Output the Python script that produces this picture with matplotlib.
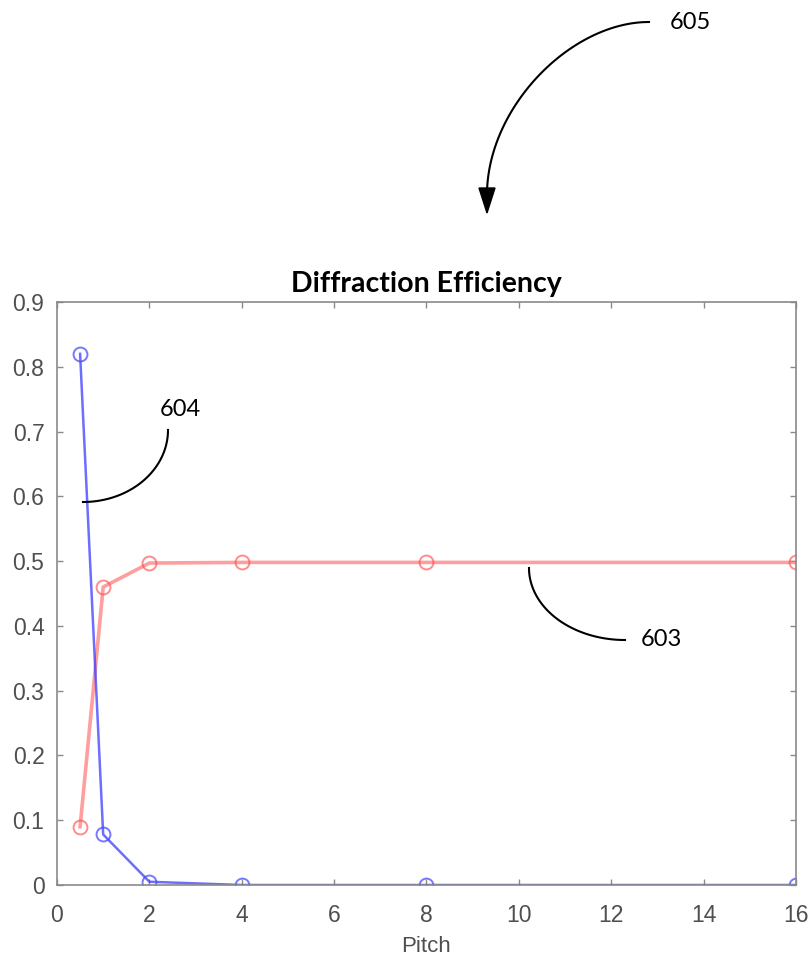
import numpy as np
import matplotlib
matplotlib.use("Agg")
import matplotlib.pyplot as plt
from matplotlib.patches import Polygon

# ---- data ----
pitch = [0.5, 1, 2, 4, 8, 16]
eff_603 = [0.09, 0.46, 0.497, 0.498, 0.498, 0.498]   # red curve
eff_604 = [0.82, 0.078, 0.005, 0.0, 0.0, 0.0]        # blue curve
x_ticks = [0, 2, 4, 6, 8, 10, 12, 14, 16]
y_ticks = [0, 0.1, 0.2, 0.3, 0.4, 0.5, 0.6, 0.7, 0.8, 0.9]

W, H = 812, 958
fig = plt.figure(figsize=(W / 100, H / 100), dpi=100)
fig.patch.set_facecolor("white")

# plot area (pixel box 57..796 x 302..885)
ax = fig.add_axes([57 / W, 1 - 885 / H, (796 - 57) / W, (885 - 302) / H])
ax.plot(pitch, eff_603, color="#ff6a6a", lw=2.6, alpha=0.65, marker="o", ms=10,
        mfc="none", mec="#ff4d4d", mew=1.4)
ax.plot(pitch, eff_604, color="#3c3cff", lw=1.8, alpha=0.75, marker="o", ms=10,
        mfc="none", mec="#4a4aff", mew=1.4)
ax.set_xlim(0, 16)
ax.set_ylim(0, 0.9)
ax.set_xticks(x_ticks)
ax.set_yticks(y_ticks)
ax.set_xticklabels([str(v) for v in x_ticks])
ax.set_yticklabels(["0"] + ["%.1f" % v for v in y_ticks[1:]])
gray = "#8a8a8a"
for s in ax.spines.values():
    s.set_color(gray)
    s.set_linewidth(1.2)
ax.tick_params(direction="in", length=4, width=1, color=gray, top=True, right=True,
               labelsize=16.5, labelcolor="#4f4f4f", pad=9)
ax.tick_params(axis="x", pad=14)
for lab in ax.get_xticklabels() + ax.get_yticklabels():
    lab.set_family("Liberation Sans")
ax.set_xlabel("Pitch", fontsize=16, color="#4f4f4f", family="Liberation Sans", labelpad=6)
ax.set_title("Diffraction Efficiency", fontsize=20.5, fontweight="bold", family="Lato",
             color="black", pad=7)

# ---- reference-number annotations, drawn in pixel coordinates ----
ov = fig.add_axes([0, 0, 1, 1], facecolor="none")
ov.set_xlim(0, W)
ov.set_ylim(H, 0)
ov.axis("off")

def bezier(p0, p1, p2, p3, n=80):
    t = np.linspace(0, 1, n)[:, None]
    pts = ((1 - t) ** 3 * np.array(p0) + 3 * (1 - t) ** 2 * t * np.array(p1)
           + 3 * (1 - t) * t ** 2 * np.array(p2) + t ** 3 * np.array(p3))
    return pts[:, 0], pts[:, 1]

def quarter(cx, cy, rx, ry, a0, a1, n=80):
    a = np.radians(np.linspace(a0, a1, n))
    return cx + rx * np.cos(a), cy + ry * np.sin(a)

# 605 arrow
bx, by = bezier((649, 22), (572, 22), (489, 105), (487, 192))
ov.plot(bx, by, color="black", lw=1.5)
ov.add_patch(Polygon([(479, 188), (495, 188), (487, 213)], closed=True,
                     color="black"))
ov.text(670, 22, "605", fontsize=17, family="Lato", va="center", ha="left")

# 604 leader
qx, qy = quarter(83, 430, 85, 72, 0, 90)
ov.plot(qx, qy, color="black", lw=1.5)
ov.text(160, 410, "604", fontsize=17, family="Lato", va="center", ha="left")

# 603 leader
qx, qy = quarter(625, 568, 96, 72, 180, 90)
ov.plot(qx, qy, color="black", lw=1.5)
ov.text(641, 640, "603", fontsize=17, family="Lato", va="center", ha="left")

fig.savefig("out.png", dpi=100, facecolor="white")
